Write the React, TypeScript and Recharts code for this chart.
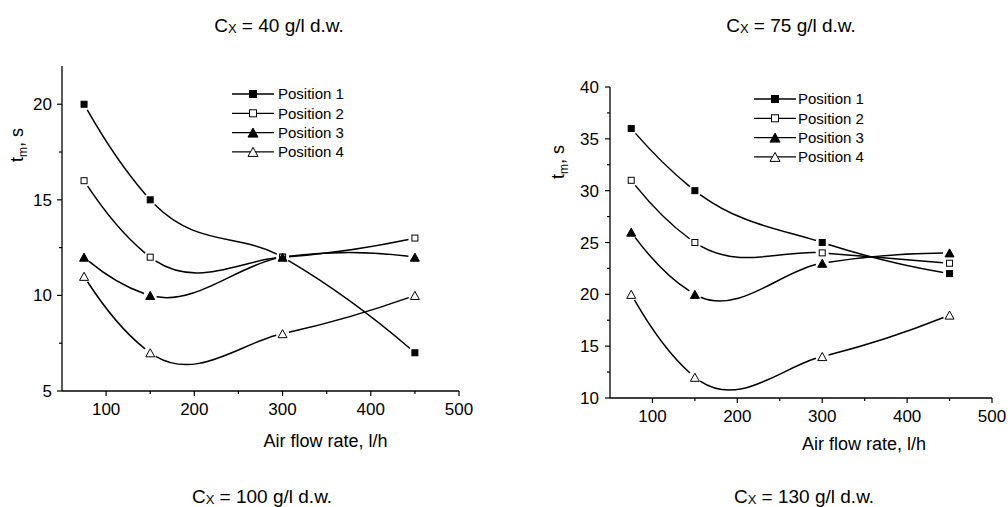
import React from 'react';
import { LineChart, Line, XAxis, YAxis, Legend, Label } from 'recharts';

// air flow rate, l/h
const airFlow = [75, 150, 300, 450];
const seriesKeys = ['p1', 'p2', 'p3', 'p4'];
const seriesNames = ['Position 1', 'Position 2', 'Position 3', 'Position 4'];
const markerKinds = ['squareFilled', 'squareOpen', 'triangleFilled', 'triangleOpen'];

// Cx = 40 g/l d.w.
const c40Pos1 = [20, 15, 12, 7];
const c40Pos2 = [16, 12, 12, 13];
const c40Pos3 = [12, 10, 12, 12];
const c40Pos4 = [11, 7, 8, 10];

// Cx = 75 g/l d.w.
const c75Pos1 = [36, 30, 25, 22];
const c75Pos2 = [31, 25, 24, 23];
const c75Pos3 = [26, 20, 23, 24];
const c75Pos4 = [20, 12, 14, 18];

const xTicks = [100, 150, 200, 250, 300, 350, 400, 450, 500];
const xMajor = [100, 200, 300, 400, 500];
const y40Ticks = [5, 7.5, 10, 12.5, 15, 17.5, 20];
const y40Major = [5, 10, 15, 20];
const y75Ticks = [10, 12.5, 15, 17.5, 20, 22.5, 25, 27.5, 30, 32.5, 35, 37.5, 40];
const y75Major = [10, 15, 20, 25, 30, 35, 40];

const FONT = '"Liberation Sans", Arial, sans-serif';
const GAP = 6.5; // line stops this far from each marker, as in Origin

const buildRows = (cols: number[][]) =>
  airFlow.map((x, i) => {
    const row: Record<string, number> = { x };
    seriesKeys.forEach((k, j) => (row[k] = cols[j][i]));
    return row;
  });

const data40 = buildRows([c40Pos1, c40Pos2, c40Pos3, c40Pos4]);
const data75 = buildRows([c75Pos1, c75Pos2, c75Pos3, c75Pos4]);

type Pt = [number, number];
const lerp = (a: Pt, b: Pt, t: number): Pt => [a[0] + (b[0] - a[0]) * t, a[1] + (b[1] - a[1]) * t];
const bez = (p: Pt[], t: number): Pt => {
  const a = lerp(p[0], p[1], t), b = lerp(p[1], p[2], t), c = lerp(p[2], p[3], t);
  return lerp(lerp(a, b, t), lerp(b, c, t), t);
};
const split = (p: Pt[], t: number) => {
  const p01 = lerp(p[0], p[1], t), p12 = lerp(p[1], p[2], t), p23 = lerp(p[2], p[3], t);
  const p012 = lerp(p01, p12, t), p123 = lerp(p12, p23, t);
  const m = lerp(p012, p123, t);
  return { left: [p[0], p01, p012, m] as Pt[], right: [m, p123, p23, p[3]] as Pt[] };
};
const dist = (a: Pt, b: Pt) => Math.hypot(a[0] - b[0], a[1] - b[1]);

// parameter where the curve first leaves a circle of radius r around `from`
function leaveAt(p: Pt[], from: Pt, r: number, fromStart: boolean) {
  let lo = 0, hi = 1;
  for (let k = 0; k < 30; k++) {
    const mid = (lo + hi) / 2;
    const t = fromStart ? mid : 1 - mid;
    if (dist(bez(p, t), from) < r) lo = mid;
    else hi = mid;
  }
  return fromStart ? hi : 1 - hi;
}

// Hermite spline with parabolic (Bessel) tangents, close to Origin's "Spline" connect,
// broken by a small gap around every data point
function besselCurve(context: any) {
  let xs: number[] = [];
  let ys: number[] = [];
  const seg = (p: Pt[]) => {
    if (dist(p[0], p[3]) <= 2 * GAP) return;
    const t0 = leaveAt(p, p[0], GAP, true);
    const t1 = leaveAt(p, p[3], GAP, false);
    const q = split(split(p, t1).left, t0 / t1).right;
    context.moveTo(q[0][0], q[0][1]);
    context.bezierCurveTo(q[1][0], q[1][1], q[2][0], q[2][1], q[3][0], q[3][1]);
  };
  return {
    areaStart() {},
    areaEnd() {},
    lineStart() {
      xs = [];
      ys = [];
    },
    point(x: number, y: number) {
      xs.push(+x);
      ys.push(+y);
    },
    lineEnd() {
      const n = xs.length;
      if (n < 2) return;
      const h: number[] = [];
      const s: number[] = [];
      for (let i = 0; i < n - 1; i++) {
        h.push(xs[i + 1] - xs[i]);
        s.push((ys[i + 1] - ys[i]) / h[i]);
      }
      const m: number[] = new Array(n).fill(s[0]);
      if (n > 2) {
        for (let i = 1; i < n - 1; i++) m[i] = (h[i] * s[i - 1] + h[i - 1] * s[i]) / (h[i - 1] + h[i]);
        const f0 = (s[1] - s[0]) / (h[0] + h[1]);
        m[0] = s[0] - f0 * h[0];
        const f1 = (s[n - 2] - s[n - 3]) / (h[n - 3] + h[n - 2]);
        m[n - 1] = s[n - 2] + f1 * h[n - 2];
      }
      for (let i = 0; i < n - 1; i++) {
        seg([
          [xs[i], ys[i]],
          [xs[i] + h[i] / 3, ys[i] + (m[i] * h[i]) / 3],
          [xs[i + 1] - h[i] / 3, ys[i + 1] - (m[i + 1] * h[i]) / 3],
          [xs[i + 1], ys[i + 1]],
        ]);
      }
    },
  };
}

function Marker({ cx, cy, kind, sq, tri }: any) {
  if (cx == null || cy == null) return null;
  const fill = kind.endsWith('Filled') ? '#000' : '#fff';
  if (kind.startsWith('square')) {
    const h = sq / 2;
    return <rect x={cx - h} y={cy - h} width={sq} height={sq} fill={fill} stroke="#000" strokeWidth={1} />;
  }
  const w = tri / 2;
  const h = tri * 0.45;
  return (
    <polygon
      points={`${cx},${cy - h} ${cx + w},${cy + h} ${cx - w},${cy + h}`}
      fill={fill}
      stroke="#000"
      strokeWidth={1}
    />
  );
}

function XTick({ x, y, payload }: any) {
  const axisY = y - 12;
  const major = xMajor.includes(payload.value);
  return (
    <g>
      <line x1={x} x2={x} y1={axisY} y2={axisY + (major ? 5 : 3)} stroke="#000" strokeWidth={1.2} />
      {major && (
        <text x={x} y={axisY + 12} dy="0.71em" textAnchor="middle" fontSize={17} fill="#000" fontFamily={FONT}>
          {payload.value}
        </text>
      )}
    </g>
  );
}

function YTick({ x, y, payload, majors, gap }: any) {
  const axisX = x + 10;
  const major = majors.includes(payload.value);
  return (
    <g>
      <line x1={axisX - (major ? 5 : 3)} x2={axisX} y1={y} y2={y} stroke="#000" strokeWidth={1.2} />
      {major && (
        <text x={axisX - gap} y={y} dy="0.355em" textAnchor="end" fontSize={17} fill="#000" fontFamily={FONT}>
          {payload.value}
        </text>
      )}
    </g>
  );
}

function YTitle({ labelX, labelY }: any) {
  return (
    <text
      x={labelX}
      y={labelY}
      transform={`rotate(-90 ${labelX} ${labelY})`}
      textAnchor="middle"
      dy="0.35em"
      fontSize={18}
      fill="#000"
      fontFamily={FONT}
    >
      t<tspan fontSize={12} dy={4}>m</tspan>
      <tspan dy={-4}>, s</tspan>
    </text>
  );
}

function LegendBox({ payload, textX }: any) {
  return (
    <svg width={130} height={80} style={{ display: 'block' }}>
      {(payload ?? []).map((item: any) => {
        const i = seriesKeys.indexOf(item.dataKey);
        const cy = 10 + i * 19.3;
        return (
          <g key={item.dataKey}>
            <line x1={0} x2={42} y1={cy} y2={cy} stroke="#000" strokeWidth={1.3} />
            <Marker cx={21} cy={cy} kind={markerKinds[i]} sq={7} tri={10} />
            <text x={textX} y={cy} dy="0.35em" fontSize={15} fill="#000" fontFamily={FONT}>
              {item.value}
            </text>
          </g>
        );
      })}
    </svg>
  );
}

function Panel({ data, yDomain, yTicks, yMajor, margin, legendPos, textX, yLabelPos, yGap, xLabelOffset, xLabelDx }: any) {
  return (
    <LineChart width={504} height={507} data={data} margin={margin} style={{ fontFamily: FONT }}>
      <XAxis
        dataKey="x"
        type="number"
        domain={[50, 500]}
        ticks={xTicks}
        interval={0}
        height={30}
        tickSize={5}
        tickMargin={7}
        tickLine={false}
        axisLine={{ stroke: '#000', strokeWidth: 1.3 }}
        tick={(p: any) => <XTick {...p} />}
      >
        <Label
          value="Air flow rate, l/h"
          position="bottom"
          offset={xLabelOffset}
          dx={xLabelDx}
          fontSize={18}
          fill="#000"
          fontFamily={FONT}
        />
      </XAxis>
      <YAxis
        type="number"
        domain={yDomain}
        ticks={yTicks}
        interval={0}
        width={40}
        tickSize={5}
        tickMargin={5}
        tickLine={false}
        axisLine={{ stroke: '#000', strokeWidth: 1.3 }}
        tick={(p: any) => <YTick {...p} majors={yMajor} gap={yGap} />}
        label={<YTitle labelX={yLabelPos[0]} labelY={yLabelPos[1]} />}
      />
      <Legend
        layout="vertical"
        align="center"
        verticalAlign="middle"
        width={130}
        height={80}
        wrapperStyle={{ left: legendPos[0], top: legendPos[1] }}
        content={(p: any) => <LegendBox {...p} textX={textX} />}
      />
      {seriesKeys.map((k, i) => (
        <Line
          key={k}
          dataKey={k}
          name={seriesNames[i]}
          type={besselCurve as any}
          stroke="#000"
          strokeWidth={1.5}
          isAnimationActive={false}
          legendType="line"
          dot={(p: any) => (
            <Marker key={`${k}-${p.index}`} cx={p.cx} cy={p.cy} kind={markerKinds[i]} sq={6} tri={9} />
          )}
          activeDot={false}
        />
      ))}
    </LineChart>
  );
}

function Title({ x, y, value }: { x: number; y: number; value: string }) {
  return (
    <text x={x} y={y} textAnchor="middle" fontSize={19} fill="#000" fontFamily={FONT}>
      C<tspan fontSize={13} dy={1}>X</tspan>
      <tspan dy={-1}>{` = ${value} g/l d.w.`}</tspan>
    </text>
  );
}

export default function App() {
  return (
    <div style={{ position: 'absolute', left: 0, top: 0, width: 1008, height: 507, background: '#fff', overflow: 'hidden' }}>
      <div style={{ position: 'absolute', left: 0, top: 0 }}>
        <Panel
          data={data40}
          yDomain={[5, 22]}
          yTicks={y40Ticks}
          yMajor={y40Major}
          margin={{ top: 66, right: 45, bottom: 86, left: 22 }}
          legendPos={[232, 84]}
          textX={46}
          yLabelPos={[17, 145]}
          yGap={10}
          xLabelOffset={13}
          xLabelDx={65}
        />
      </div>
      <div style={{ position: 'absolute', left: 504, top: 0 }}>
        <Panel
          data={data75}
          yDomain={[10, 40]}
          yTicks={y75Ticks}
          yMajor={y75Major}
          margin={{ top: 87, right: 16, bottom: 79, left: 66 }}
          legendPos={[250, 89]}
          textX={44}
          yLabelPos={[54, 162]}
          yGap={11}
          xLabelOffset={9}
          xLabelDx={63}
        />
      </div>
      <svg width={1008} height={507} style={{ position: 'absolute', left: 0, top: 0, pointerEvents: 'none' }}>
        <Title x={279} y={32} value="40" />
        <Title x={791} y={32} value="75" />
        <Title x={262} y={503} value="100" />
        <Title x={804} y={503} value="130" />
      </svg>
    </div>
  );
}
